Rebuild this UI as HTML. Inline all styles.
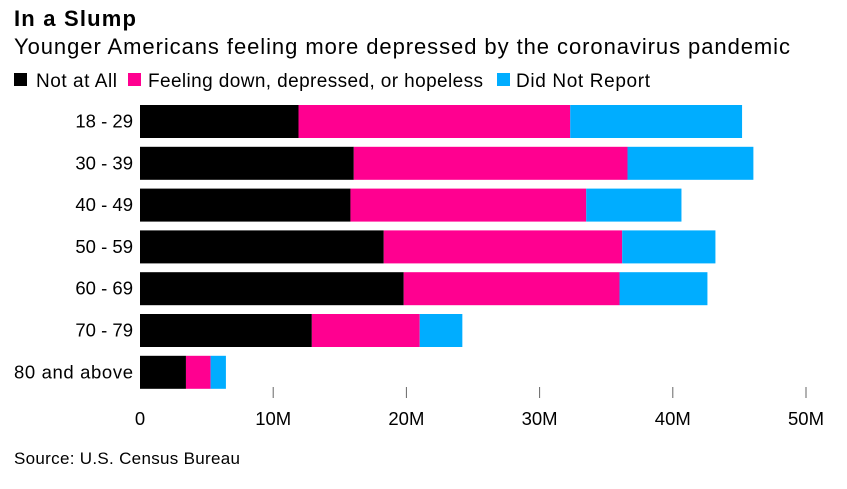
<!DOCTYPE html>
<html><head><meta charset="utf-8"><style>
body{margin:0;background:#fff;width:847px;height:484px;overflow:hidden;font-family:"Liberation Sans",sans-serif}
</style></head><body>
<svg width="847" height="484" id="svg">
<text x="14" y="26" font-size="22" font-weight="bold" fill="#000" textLength="122">In a Slump</text>
<text x="14" y="54" font-size="22" fill="#000" textLength="776">Younger Americans feeling more depressed by the coronavirus pandemic</text>
<g>
<rect x="14" y="73" width="13" height="13" fill="#000"/>
<text x="36" y="87" font-size="19" textLength="81">Not at All</text>
<rect x="128" y="73" width="13" height="13" fill="#ff0090"/>
<text x="148" y="87" font-size="19" textLength="335">Feeling down, depressed, or hopeless</text>
<rect x="497" y="73" width="13" height="13" fill="#00adff"/>
<text x="516" y="87" font-size="19" textLength="134">Did Not Report</text>
</g>
<g id="bars"></g>
<g id="axis"></g>
<text x="14" y="464" font-size="17" fill="#000" textLength="226">Source: U.S. Census Bureau</text>
</svg>
<script>
const categories=["18 - 29","30 - 39","40 - 49","50 - 59","60 - 69","70 - 79","80 and above"];
const notAtAll=[11.9,16.05,15.8,18.3,19.8,12.9,3.45];
const feelingDown=[20.4,20.55,17.7,17.9,16.2,8.1,1.85];
const didNotReport=[12.9,9.45,7.15,7.0,6.6,3.2,1.15];
const ticks=[0,10,20,30,40,50];
const tickLabels=["0","10M","20M","30M","40M","50M"];
const NS="http://www.w3.org/2000/svg";
const x=v=>140+v*13.32;
const y=i=>105+i*41.8;
const bh=33;
const bars=document.getElementById('bars');
const axis=document.getElementById('axis');
function mk(t,a){const e=document.createElementNS(NS,t);for(const k in a)e.setAttribute(k,a[k]);return e;}
const series=[[notAtAll,"#000","not-at-all"],[feelingDown,"#ff0090","feeling-down"],[didNotReport,"#00adff","did-not-report"]];
categories.forEach((c,i)=>{
  const lab=mk('text',{x:133,y:y(i)+bh/2+6,'font-size':18.5,'text-anchor':'end'});
  if(c.length>8)lab.setAttribute('textLength',119);
  lab.textContent=c;
  
  
  axis.appendChild(lab);
  let acc=0;
  series.forEach(([arr,col,nm])=>{
    const r=mk('rect',{x:x(acc),y:y(i),width:x(acc+arr[i])-x(acc),height:bh,fill:col});
    
    
    bars.appendChild(r);
    acc+=arr[i];
  });
});
ticks.forEach((t,i)=>{
  if(t>0){const l=mk('line',{x1:x(t),x2:x(t),y1:387,y2:398,stroke:'#666','stroke-width':1});
  
  
  axis.appendChild(l);}
  const tx=mk('text',{x:x(t),y:425,'font-size':18.5,'text-anchor':'middle'});
  tx.textContent=tickLabels[i];
  
  
  axis.appendChild(tx);
});
</script>
</body></html>
